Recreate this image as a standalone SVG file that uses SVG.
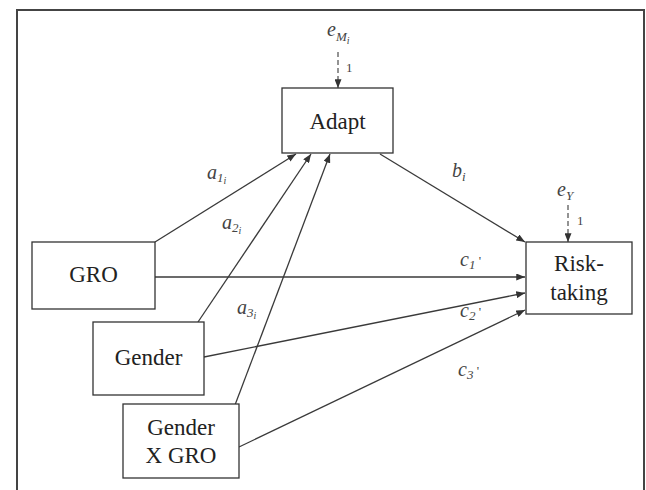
<svg xmlns="http://www.w3.org/2000/svg" width="646" height="490" viewBox="0 0 646 490" font-family="Liberation Serif, Times New Roman, Times, DejaVu Serif, serif">
<style>
.box{fill:#fff;stroke:#333;stroke-width:1.3}
.nt{font-size:23px;fill:#222;text-anchor:middle}
.lb{font-style:italic;font-size:20px;fill:#444}
.sb{font-size:13px}
.ssb{font-size:10px}
.one{font-size:13px;fill:#444}
.ln{stroke:#3a3a3a;stroke-width:1.3;fill:none;marker-end:url(#ah)}
.dl{stroke:#666;stroke-width:1.4;fill:none;stroke-dasharray:5 3;marker-end:url(#ah)}
</style>
<defs>
<marker id="ah" viewBox="0 0 10 8" refX="10" refY="4" markerWidth="9" markerHeight="7" markerUnits="userSpaceOnUse" orient="auto">
<path d="M0,0 L10,4 L0,8 Z" fill="#333"/>
</marker>
</defs>
<rect width="646" height="490" fill="#fff"/>
<rect x="17" y="10" width="627" height="500" fill="none" stroke="#444" stroke-width="2"/>
<g id="connectors">
<line class="ln" x1="155" y1="242" x2="296" y2="154"/>
<line class="ln" x1="198" y1="322" x2="311" y2="154"/>
<line class="ln" x1="235" y1="405" x2="330" y2="154"/>
<line class="ln" x1="155" y1="277" x2="525" y2="277"/>
<line class="ln" x1="204" y1="357" x2="525" y2="293"/>
<line class="ln" x1="239" y1="447" x2="525" y2="310"/>
<line class="ln" x1="380" y1="154" x2="525" y2="242"/>
<line class="dl" x1="338" y1="52" x2="338" y2="88"/>
<line class="dl" x1="568" y1="205" x2="568" y2="242"/>
</g>
<g id="labels">
<text class="lb" x="207" y="179">a<tspan class="sb" dy="3">1</tspan><tspan class="ssb" dy="2">i</tspan></text>
<text class="lb" x="222" y="229">a<tspan class="sb" dy="3">2</tspan><tspan class="ssb" dy="2">i</tspan></text>
<text class="lb" x="237" y="314">a<tspan class="sb" dy="3">3</tspan><tspan class="ssb" dy="2">i</tspan></text>
<text class="lb" x="452" y="177">b<tspan class="sb" dy="4">i</tspan></text>
<text class="lb" x="460" y="266">c<tspan class="sb" dy="3">1</tspan><tspan class="sb" dy="-4" font-style="normal"> '</tspan></text>
<text class="lb" x="460" y="317">c<tspan class="sb" dy="3">2</tspan><tspan class="sb" dy="-4" font-style="normal"> '</tspan></text>
<text class="lb" x="458" y="376">c<tspan class="sb" dy="3">3</tspan><tspan class="sb" dy="-4" font-style="normal"> '</tspan></text>
<text class="lb" x="327" y="36">e<tspan class="sb" dy="5">M</tspan><tspan class="ssb" dy="3">i</tspan></text>
<text class="one" x="346" y="72">1</text>
<text class="lb" x="557" y="196">e<tspan class="sb" dy="4">Y</tspan></text>
<text class="one" x="577" y="225">1</text>
</g>
<g id="adapt">
<rect class="box" x="282" y="88" width="111" height="65"/>
<text class="nt" x="337.5" y="129">Adapt</text>
</g>
<g id="risk">
<rect class="box" x="526" y="242" width="106" height="72"/>
<text class="nt" x="579" y="271">Risk-</text>
<text class="nt" x="579" y="300">taking</text>
</g>
<g id="gro">
<rect class="box" x="32" y="242" width="123" height="67"/>
<text class="nt" x="93.5" y="282">GRO</text>
</g>
<g id="gender">
<rect class="box" x="93" y="322" width="111" height="73"/>
<text class="nt" x="148.5" y="365">Gender</text>
</g>
<g id="genderxgro">
<rect class="box" x="123" y="404" width="116" height="74"/>
<text class="nt" x="181" y="435">Gender</text>
<text class="nt" x="181" y="463">X GRO</text>
</g>
</svg>
